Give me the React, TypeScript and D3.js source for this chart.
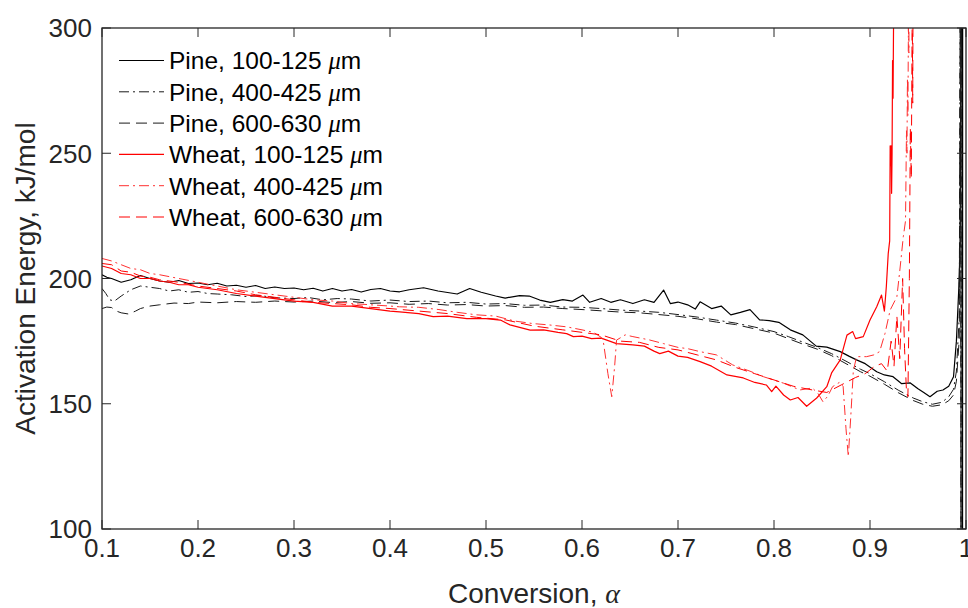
import * as d3 from "d3";

// Activation energy vs conversion
const pine100: [number, number][] = [
  [0.1, 201.5], [0.105, 200.5], [0.11, 200], [0.12, 198.5], [0.13, 199.5], [0.14, 201.2], [0.15, 200], [0.16, 199],
  [0.17, 198.5], [0.18, 199.2], [0.19, 198], [0.2, 198.2], [0.21, 197.5], [0.22, 198.1], [0.23, 197], [0.24, 197.3],
  [0.25, 196.5], [0.26, 197.2], [0.27, 196], [0.28, 196.6], [0.29, 196], [0.3, 196.2], [0.31, 195.5], [0.32, 196.1],
  [0.33, 195], [0.34, 196], [0.35, 195], [0.36, 195.6], [0.37, 194.6], [0.38, 195.6], [0.39, 196], [0.4, 195],
  [0.41, 194.7], [0.42, 195.5], [0.435, 196.3], [0.45, 195], [0.47, 193.8], [0.483, 196], [0.495, 194.5], [0.51, 193],
  [0.52, 192.2], [0.535, 193.2], [0.545, 193], [0.556, 191.4], [0.567, 190.5], [0.58, 191.6], [0.59, 191], [0.601, 193.4],
  [0.608, 190.5], [0.62, 192], [0.63, 190.5], [0.64, 191.5], [0.653, 190], [0.665, 191.5], [0.675, 190.5], [0.685, 195.4],
  [0.692, 190], [0.7, 190.6], [0.71, 189.5], [0.718, 187.8], [0.723, 190.7], [0.735, 188], [0.745, 189], [0.755, 185.5],
  [0.765, 186.5], [0.775, 187.6], [0.785, 183.5], [0.795, 183.2], [0.805, 182.5], [0.817, 179.5], [0.83, 177.5],
  [0.844, 173], [0.855, 172.6], [0.869, 170.8], [0.878, 169], [0.886, 167.5], [0.895, 166], [0.907, 162.8],
  [0.915, 161.5], [0.924, 160.8], [0.933, 158], [0.942, 158.3], [0.95, 156], [0.956, 154.5], [0.9625, 152.8],
  [0.97, 155], [0.976, 155.5], [0.982, 157], [0.987, 160.8], [0.99, 175], [0.9925, 196], [0.9937, 210], [0.995, 300],
  [0.9962, 420], [0.9964, 40], [0.9966, 420],
];

const pine400: [number, number][] = [
  [0.1, 196], [0.104, 194], [0.108, 191.5], [0.113, 191], [0.12, 193], [0.13, 195.5], [0.14, 197], [0.15, 196.5],
  [0.16, 196], [0.17, 195], [0.18, 195.5], [0.19, 194.5], [0.2, 194.8], [0.21, 194], [0.22, 193.8], [0.235, 193.5],
  [0.25, 192.8], [0.265, 193.2], [0.28, 192.3], [0.3, 192], [0.315, 192.4], [0.33, 191.5], [0.345, 192], [0.36, 191.8],
  [0.38, 191], [0.4, 191.4], [0.42, 190.8], [0.44, 191], [0.46, 190.3], [0.48, 190.5], [0.5, 189.8], [0.52, 190],
  [0.54, 189.3], [0.56, 189.4], [0.58, 188.6], [0.6, 188.5], [0.62, 188], [0.64, 187.4], [0.66, 187], [0.68, 186.5],
  [0.7, 185.6], [0.72, 184.6], [0.74, 183.4], [0.76, 182.2], [0.78, 180.6], [0.8, 178.8], [0.815, 176.8], [0.83, 174.6],
  [0.845, 172.5], [0.86, 170], [0.875, 167], [0.89, 163.8], [0.9, 162], [0.915, 158.8], [0.93, 155.3], [0.945, 152.3],
  [0.955, 150.8], [0.965, 149.8], [0.975, 150.6], [0.982, 152.8], [0.987, 155.8], [0.99, 163], [0.993, 185],
  [0.9945, 400], [0.9948, 40], [0.995, 400],
];

const pine600: [number, number][] = [
  [0.1, 188], [0.105, 188.6], [0.11, 188.4], [0.115, 187], [0.12, 186.3], [0.128, 185.8], [0.135, 187], [0.14, 188],
  [0.15, 189], [0.16, 189.5], [0.175, 190.2], [0.19, 190], [0.2, 190.6], [0.22, 190.3], [0.24, 190.8], [0.26, 190.5],
  [0.28, 191], [0.3, 190.6], [0.32, 191], [0.34, 190.4], [0.36, 190.8], [0.38, 190.1], [0.4, 190.3], [0.42, 189.7],
  [0.44, 190], [0.46, 189.4], [0.48, 189.6], [0.5, 189], [0.52, 189.2], [0.54, 188.5], [0.56, 188.6], [0.58, 188],
  [0.6, 187.6], [0.62, 187.1], [0.64, 186.6], [0.66, 186.3], [0.68, 185.6], [0.7, 184.9], [0.72, 183.9], [0.74, 182.6],
  [0.76, 181.6], [0.78, 179.9], [0.8, 178.2], [0.815, 176], [0.83, 173.8], [0.845, 171.8], [0.86, 169.2], [0.875, 166],
  [0.89, 162.8], [0.9, 161], [0.915, 157.8], [0.93, 154.3], [0.945, 151.3], [0.955, 149.8], [0.965, 149], [0.975, 149.6],
  [0.982, 151.2], [0.987, 153.5], [0.99, 159], [0.993, 176], [0.9945, 400], [0.9949, 40], [0.9952, 400],
];

const wheat100: [number, number][] = [
  [0.1, 205], [0.11, 204], [0.12, 202], [0.13, 201.5], [0.14, 200], [0.15, 200], [0.16, 199], [0.17, 198.5],
  [0.18, 197.5], [0.19, 197.5], [0.2, 196.5], [0.22, 195.5], [0.24, 194], [0.26, 193], [0.28, 192], [0.3, 191],
  [0.32, 190.5], [0.34, 189], [0.36, 189], [0.38, 188], [0.4, 187], [0.41, 186.7], [0.43, 186], [0.445, 184.8],
  [0.46, 185], [0.48, 184], [0.5, 184], [0.515, 183.4], [0.525, 181.5], [0.535, 180.5], [0.546, 179.4], [0.56, 179.5],
  [0.575, 178.5], [0.584, 178], [0.591, 176.8], [0.6, 177], [0.61, 176], [0.62, 176.2], [0.636, 174], [0.653, 173.5],
  [0.665, 173], [0.675, 171], [0.681, 170], [0.69, 171], [0.7, 169], [0.71, 168.5], [0.723, 166.8], [0.735, 165],
  [0.751, 161.5], [0.768, 160.3], [0.78, 158.5], [0.792, 157.5], [0.7976, 154.8], [0.802, 157], [0.81, 153.5],
  [0.817, 151.5], [0.825, 152.5], [0.834, 149], [0.8445, 152.3], [0.855, 156.8], [0.86, 162.3], [0.869, 167.5],
  [0.876, 177.4], [0.882, 178.8], [0.885, 176], [0.893, 176.8], [0.9, 183.4], [0.907, 188.7], [0.912, 193.4],
  [0.915, 187], [0.917, 196.7], [0.919, 210], [0.9205, 215], [0.921, 253], [0.9215, 245], [0.922, 253], [0.9225, 234],
  [0.923, 250], [0.9235, 287], [0.924, 272], [0.9245, 300], [0.925, 330], [0.93, 420],
];

const wheat400: [number, number][] = [
  [0.1, 208], [0.11, 207], [0.12, 205.5], [0.13, 204], [0.14, 203.5], [0.15, 202], [0.16, 201.5], [0.18, 200],
  [0.2, 198.5], [0.22, 197], [0.24, 195.5], [0.26, 194.5], [0.28, 193.5], [0.3, 192.5], [0.32, 191.5], [0.34, 191],
  [0.36, 190], [0.38, 189.5], [0.4, 189], [0.41, 188.7], [0.43, 188.5], [0.451, 187.6], [0.47, 186.5], [0.49, 185.5],
  [0.51, 185], [0.53, 183], [0.549, 182], [0.565, 181.5], [0.584, 180.7], [0.6, 179.5], [0.612, 178.5], [0.62, 176.5],
  [0.622, 175.4], [0.627, 162], [0.631, 152.8], [0.634, 165], [0.636, 175.4], [0.645, 177.5], [0.653, 176.8],
  [0.67, 175.5], [0.685, 174], [0.7, 172.5], [0.71, 172], [0.723, 170.8], [0.74, 169.5], [0.757, 165.5], [0.775, 163],
  [0.789, 160.8], [0.81, 158.2], [0.827, 155.5], [0.84, 156.3], [0.846, 154], [0.851, 150.8], [0.856, 153],
  [0.861, 156.8], [0.868, 158.5], [0.872, 157], [0.875, 140], [0.8774, 128.9], [0.88, 145], [0.8826, 163],
  [0.886, 168.8], [0.8965, 168.8], [0.904, 169.5], [0.91, 170.8], [0.9156, 178], [0.921, 187.4], [0.928, 192.7],
  [0.931, 203], [0.9347, 216.7], [0.937, 223], [0.938, 259], [0.9385, 250], [0.939, 280], [0.9395, 265], [0.94, 300],
  [0.9405, 290], [0.941, 330], [0.945, 420],
];

const wheat600: [number, number][] = [
  [0.1, 206], [0.11, 205.5], [0.12, 203], [0.13, 202.5], [0.14, 201], [0.15, 200.5], [0.16, 199.5], [0.18, 198.5],
  [0.2, 197], [0.22, 196], [0.24, 195], [0.26, 193.5], [0.28, 192.5], [0.3, 191.5], [0.32, 190.5], [0.34, 190],
  [0.36, 189.5], [0.38, 188.5], [0.4, 188], [0.43, 187], [0.46, 186], [0.49, 184.5], [0.52, 183.5], [0.55, 181],
  [0.58, 179.5], [0.6, 178.5], [0.62, 177.5], [0.64, 175], [0.66, 174.5], [0.68, 172.5], [0.7, 171.5], [0.72, 169.5],
  [0.74, 167.5], [0.76, 164.5], [0.78, 162], [0.8, 159.5], [0.82, 157], [0.84, 155.5], [0.855, 154.5], [0.87, 157.5],
  [0.885, 160.5], [0.895, 162], [0.905, 165], [0.912, 166], [0.918, 163], [0.922, 175], [0.925, 165], [0.928, 185],
  [0.931, 168], [0.934, 200], [0.936, 172], [0.938, 155], [0.9395, 152.8], [0.941, 200], [0.942, 260], [0.943, 240],
  [0.944, 310], [0.9445, 270], [0.945, 330], [0.946, 420],
];

const xTicks = [0.1, 0.2, 0.3, 0.4, 0.5, 0.6, 0.7, 0.8, 0.9, 1];
const xTickLabels = ["0.1", "0.2", "0.3", "0.4", "0.5", "0.6", "0.7", "0.8", "0.9", "1"];
const yTicks = [100, 150, 200, 250, 300];

const DASH = "11 6";
const DASHDOT = "10 4 2 4";

const series = [
  { label: "Pine, 100-125 ", data: pine100, color: "#000000", dash: "none", width: 1.2 },
  { label: "Pine, 400-425 ", data: pine400, color: "#1a1a1a", dash: DASHDOT, width: 1 },
  { label: "Pine, 600-630 ", data: pine600, color: "#1a1a1a", dash: DASH, width: 1 },
  { label: "Wheat, 100-125 ", data: wheat100, color: "#ff0000", dash: "none", width: 1.2 },
  { label: "Wheat, 400-425 ", data: wheat400, color: "#ff3030", dash: DASHDOT, width: 1 },
  { label: "Wheat, 600-630 ", data: wheat600, color: "#ff0000", dash: DASH, width: 1 },
];

const W = 968;
const H = 608;
const margin = { top: 28, right: 2, bottom: 79, left: 102 };
const axisColor = "#262626";
const font = "'Liberation Sans', Arial, Helvetica, sans-serif";
const greek = "'Liberation Serif', 'DejaVu Serif', serif";

export default function App() {
  const x = d3.scaleLinear().domain([0.1, 1]).range([margin.left, W - margin.right]);
  const y = d3.scaleLinear().domain([100, 300]).range([H - margin.bottom, margin.top]);
  const line = d3.line<[number, number]>().x(d => x(d[0])).y(d => y(d[1]));

  const x0 = x.range()[0], x1 = x.range()[1];
  const y0 = y.range()[0], y1 = y.range()[1];
  const tickLen = 9;

  return (
    <div style={{ position: "absolute", left: 0, top: 0, background: "#fff" }}>
      <svg width={W} height={H} style={{ display: "block" }} fontFamily={font}>
        <defs>
          <clipPath id="plot-clip">
            <rect x={x0} y={y1} width={x1 - x0} height={y0 - y1} />
          </clipPath>
        </defs>
        <rect width={W} height={H} fill="#fff" />

        <g clipPath="url(#plot-clip)">
          {series.map(s => (
            <path
              key={s.label}
              d={line(s.data) ?? ""}
              fill="none"
              stroke={s.color}
              strokeWidth={s.width}
              strokeDasharray={s.dash}
              strokeLinejoin="round"
            />
          ))}
        </g>

        {/* ticks on all four sides, pointing inward */}
        {xTicks.map(t => (
          <g key={"xt" + t} stroke={axisColor} strokeWidth={1}>
            <line x1={x(t)} x2={x(t)} y1={y0} y2={y0 - tickLen} />
            <line x1={x(t)} x2={x(t)} y1={y1} y2={y1 + tickLen} />
          </g>
        ))}
        {yTicks.map(t => (
          <g key={"yt" + t} stroke={axisColor} strokeWidth={1}>
            <line x1={x0} x2={x0 + tickLen} y1={y(t)} y2={y(t)} />
            <line x1={x1} x2={x1 - tickLen} y1={y(t)} y2={y(t)} />
          </g>
        ))}
        <rect x={x0} y={y1} width={x1 - x0} height={y0 - y1} fill="none" stroke={axisColor} strokeWidth={1.3} />

        {xTicks.map((t, i) => (
          <text key={"xl" + t} x={x(t)} y={y0 + 28} textAnchor="middle" fontSize={26} fill={axisColor}>
            {xTickLabels[i]}
          </text>
        ))}
        {yTicks.map(t => (
          <text key={"yl" + t} x={x0 - 10} y={y(t)} dy="0.36em" textAnchor="end" fontSize={26} fill={axisColor}>
            {t}
          </text>
        ))}

        <text x={(x0 + x1) / 2} y={H - 5} textAnchor="middle" fontSize={28} fill={axisColor}>
          Conversion, <tspan fontFamily={greek} fontStyle="italic">α</tspan>
        </text>
        <text
          transform={`translate(35,${(y0 + y1) / 2}) rotate(-90)`}
          textAnchor="middle"
          fontSize={28}
          fill={axisColor}
        >
          Activation Energy, kJ/mol
        </text>

        <g transform="translate(119,60.5)">
          {series.map((s, i) => (
            <g key={"lg" + s.label} transform={`translate(0,${i * 31.3})`}>
              <line x1={0} x2={45} y1={0} y2={0} stroke={s.color} strokeWidth={s.width} strokeDasharray={s.dash} />
              <text x={50} dy="0.36em" fontSize={24.5} fill="#000">
                {s.label}
                <tspan fontFamily={greek} fontStyle="italic">μ</tspan>m
              </text>
            </g>
          ))}
        </g>
      </svg>
    </div>
  );
}
